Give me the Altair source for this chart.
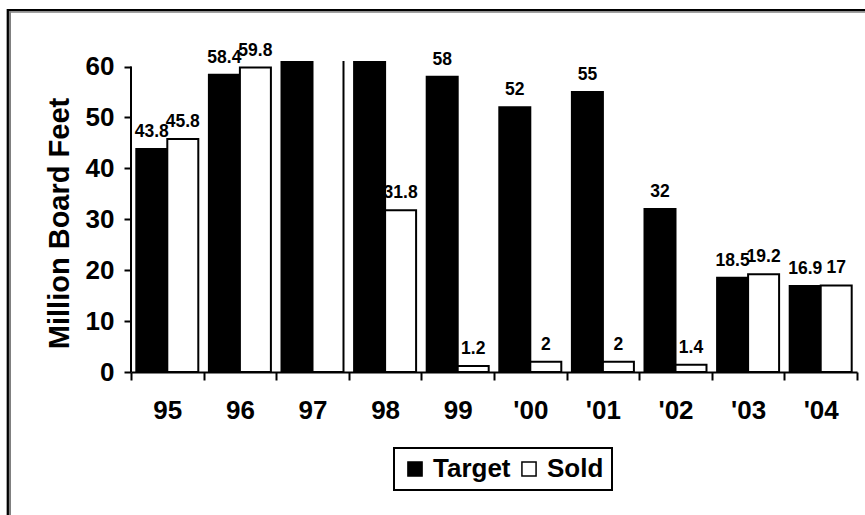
import altair as alt
import pandas as pd

# Timber volumes by fiscal year (million board feet)
years = ["95", "96", "97", "98", "99", "'00", "'01", "'02", "'03", "'04"]
target = [43.8, 58.4, 65.0, 64.0, 58, 52, 55, 32, 18.5, 16.9]
sold = [45.8, 59.8, 62.0, 31.8, 1.2, 2, 2, 1.4, 19.2, 17]
series = ["Target", "Sold"]
y_ticks = [0, 10, 20, 30, 40, 50, 60]

rows = []
for yr, t, s in zip(years, target, sold):
    rows.append({"year": yr, "series": "Target", "value": t, "label": f"{t:g}"})
    rows.append({"year": yr, "series": "Sold", "value": s, "label": f"{s:g}"})
df = pd.DataFrame(rows)

FONT = "Liberation Sans"
Y_TOP = 61.1  # the plot area runs a little past the last tick

x_enc = alt.X(
    "year:N",
    sort=years,
    scale=alt.Scale(paddingInner=0, paddingOuter=0),
    axis=alt.Axis(
        title=None,
        tickBand="extent",
        labelAngle=0,
        labelFont=FONT,
        labelFontWeight="bold",
        labelFontSize=26,
        labelColor="black",
        labelPadding=17,
        tickSize=8,
        tickWidth=2,
        tickColor="black",
        domainColor="black",
        domainWidth=2,
        grid=False,
    ),
)
xoff = alt.XOffset(
    "series:N",
    sort=series,
    scale=alt.Scale(domain=series, paddingInner=0, paddingOuter=0.171),
)
y_scale = alt.Scale(domain=[0, Y_TOP], nice=False, zero=True)

bars = (
    alt.Chart(df)
    .mark_bar(stroke="black", strokeWidth=2, clip=True)
    .encode(
        x=x_enc,
        xOffset=xoff,
        y=alt.Y(
            "value:Q",
            scale=y_scale,
            axis=alt.Axis(
                title="Million Board Feet",
                titleFont=FONT,
                titleFontWeight="bold",
                titleFontSize=29,
                titleColor="black",
                titleAngle=-90,
                titleAlign="center",
                titleBaseline="middle",
                titleX=-72,
                titleY=162,
                values=y_ticks,
                labelFont=FONT,
                labelFontWeight="bold",
                labelFontSize=26,
                labelColor="black",
                labelPadding=10,
                tickSize=7,
                tickWidth=2,
                tickColor="black",
                domain=False,
                grid=False,
            ),
        ),
        fill=alt.Fill(
            "series:N",
            sort=series,
            scale=alt.Scale(domain=series, range=["black", "white"]),
            legend=alt.Legend(
                title=None,
                orient="none",
                legendX=263,
                legendY=387,
                direction="horizontal",
                symbolType="square",
                symbolSize=200,
                symbolStrokeColor="black",
                symbolStrokeWidth=1.5,
                labelFont=FONT,
                labelFontWeight="bold",
                labelFontSize=26,
                labelColor="black",
                labelOffset=5,
                columnPadding=5,
                padding=8,
                strokeColor="black",
            ),
        ),
    )
)

labels = (
    alt.Chart(df)
    .transform_filter(alt.datum.value <= Y_TOP)
    .mark_text(font=FONT, fontWeight="bold", fontSize=17.5, color="black",
               baseline="alphabetic", dy=-12)
    .encode(x=x_enc, xOffset=xoff, y=alt.Y("value:Q", scale=y_scale), text="label:N")
)

# vertical axis line, from 0 up to the top tick only
axis_line = (
    alt.Chart(pd.DataFrame({"lo": [0], "hi": [60]}))
    .mark_rule(color="black", strokeWidth=2)
    .encode(x=alt.value(0), y=alt.Y("lo:Q", scale=y_scale), y2="hi:Q")
)

# framed border of the chart with a grey shadow edge
frame_top = alt.Chart(pd.DataFrame({"k": [0]})).mark_rule(color="black", strokeWidth=2.3).encode(
    x=alt.value(-124), x2=alt.value(740), y=alt.value(-50.8))
frame_top_shadow = alt.Chart(pd.DataFrame({"k": [0]})).mark_rule(color="#808080", strokeWidth=1.5).encode(
    x=alt.value(-122), x2=alt.value(740), y=alt.value(-49))
frame_left = alt.Chart(pd.DataFrame({"k": [0]})).mark_rule(color="black", strokeWidth=2.3).encode(
    x=alt.value(-123.2), y=alt.value(-52), y2=alt.value(460))
frame_left_shadow = alt.Chart(pd.DataFrame({"k": [0]})).mark_rule(color="#808080", strokeWidth=2).encode(
    x=alt.value(-121), y=alt.value(-49.8), y2=alt.value(460))

chart = (
    alt.layer(bars, labels, axis_line, frame_top, frame_top_shadow, frame_left, frame_left_shadow)
    .properties(
        width=726,
        height=311,
        autosize=alt.AutoSizeParams(type="none"),
        padding={"left": 131, "top": 61, "right": 8, "bottom": 143},
        background="white",
    )
    .configure_view(stroke=None)
    .configure_legend(strokeWidth=2)
)

chart.save("out.html", embed_options={"renderer": "svg", "actions": False})
